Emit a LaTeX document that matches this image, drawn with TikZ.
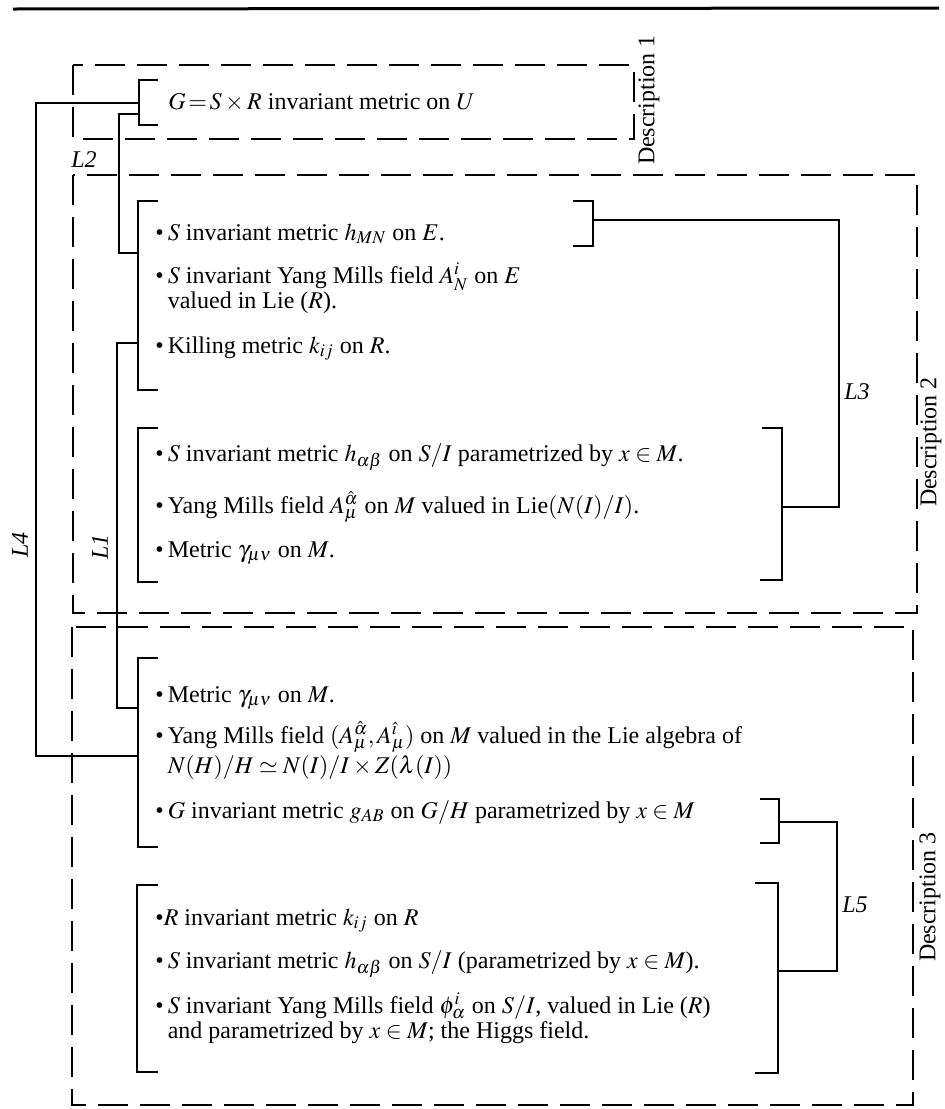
\documentclass[tikz,border=0pt]{standalone}
\usepackage{mathptmx}
\usepackage{fontspec}
\setmainfont{Liberation Serif}
\usetikzlibrary{positioning}

\newcommand{\blt}{\textbullet\,}
\newcommand{\cnt}{\phantom{\textbullet\,}}

\begin{document}
\begin{tikzpicture}[x=0.5pt, y=-0.5pt,
  itm/.style={anchor=base west, inner sep=0pt, align=left,
    font=\fontsize{12}{12.5}\selectfont},
  lab/.style={inner sep=0pt, font=\fontsize{12}{12.5}\selectfont\itshape},
  desc/.style={inner sep=0pt, rotate=90, font=\fontsize{12}{12.5}\selectfont},
  dbox/.style={line width=1.3pt, dash pattern=on 15pt off 6pt},
  brk/.style={line width=1.3pt},
  link/.style={line width=1pt}
]
  \useasboundingbox (0,0) rectangle (944,1109);
  \draw[line width=1.5pt] (13,9) -- (939,8);

  % the three descriptions
  \draw[dbox] (73,65) rectangle (634,139);
  \draw[dbox] (73,175) rectangle (917,613);
  \draw[dbox] (72,627) rectangle (913,1105);
  \node[desc] (desc1) at (649,100) {Description 1};
  \node[desc] (desc2) at (931,442) {Description 2};
  \node[desc] (desc3) at (930,897) {Description 3};

  % description 1
  \node[itm] (gmet) at (168,109) {$G\!=\!S\times R$ invariant metric on $U$};
  \draw[brk] (158,80) -| (139,125) -- (158,125);

  % description 2 (two-line items sit on their last line)
  \node[itm] (hmn) at (155,240) {\blt $S$ invariant metric $h_{MN}$ on $E$.};
  \node[itm] (ymn) at (155,308) {\blt $S$ invariant Yang Mills field $A^i_N$ on $E$\\
    \cnt valued in Lie ($R$).};
  \node[itm] (kil) at (155,353) {\blt Killing metric $k_{ij}$ on $R$.};
  \node[itm] (hab) at (155,461) {\blt $S$ invariant metric $h_{\alpha\beta}$ on $S/I$ parametrized by $x\in M$.};
  \node[itm] (yma) at (155,513) {\blt Yang Mills field $A^{\hat\alpha}_\mu$ on $M$ valued in Lie$(N(I)/I)$.};
  \node[itm] (gam) at (155,557) {\blt Metric $\gamma_{\mu\nu}$ on $M$.};
  \draw[brk] (158,201) -| (138,390) -- (158,390);
  \draw[brk] (573,201) -| (593,246) -- (573,246);
  \draw[brk] (158,428) -| (138,582) -- (158,582);
  \draw[brk] (762,428) -| (782,580) -- (760,580);

  % description 3
  \node[itm] (gam3) at (155,702) {\blt Metric $\gamma_{\mu\nu}$ on $M$.};
  \node[itm] (ym3) at (155,773) {\blt Yang Mills field $(A^{\hat\alpha}_\mu, A^{\hat\imath}_\mu)$ on $M$ valued in the Lie algebra of\\
    \cnt $N(H)/H\simeq N(I)/I\times Z(\lambda(I))$};
  \node[itm] (gab) at (155,818) {\blt $G$ invariant metric $g_{AB}$ on $G/H$ parametrized by $x\in M$};
  \node[itm] (kij) at (155,925) {\textbullet$R$ invariant metric $k_{ij}$ on $R$};
  \node[itm] (hab3) at (155,968) {\blt $S$ invariant metric $h_{\alpha\beta}$ on $S/I$ (parametrized by $x\in M$).};
  \node[itm] (phi) at (155,1038) {\blt $S$ invariant Yang Mills field $\phi^i_\alpha$ on $S/I$, valued in Lie ($R$)\\
    \cnt and parametrized by $x\in M$; the Higgs field.};
  \draw[brk] (158,658) -| (138,847) -- (158,847);
  \draw[brk] (760,799) -| (779,843) -- (760,843);
  \draw[brk] (158,885) -| (137,1072) -- (158,1072);
  \draw[brk] (755,883) -| (778,1073) -- (755,1073);

  % where the links meet the brackets
  \coordinate (G-a) at (139,103);
  \coordinate (G-b) at (139,114);
  \coordinate (A2-a) at (138,253);
  \coordinate (A2-b) at (138,343);
  \coordinate (A2-r) at (593,220);
  \coordinate (B2-r) at (782,507);
  \coordinate (A3-a) at (138,708);
  \coordinate (A3-b) at (138,756);
  \coordinate (A3-r) at (779,822);
  \coordinate (B3-r) at (778,971);

  % links
  \draw[link] (G-a) -- ++(-103,0) |- (A3-b);
  \draw[link] (G-b) -- ++(-20,0) |- (A2-a);
  \draw[link] (A2-b) -- ++(-21,0) |- (A3-a);
  \draw[link] (A2-r) -- ++(246,0) |- (B2-r);
  \draw[link] (A3-r) -- ++(58,0) |- (B3-r);
  \node[lab, rotate=90] (l4) at (20,545) {L4};
  \node[lab] (l2) at (84,160) {L2};
  \node[lab, rotate=90] (l1) at (100,547) {L1};
  \node[lab] (l3) at (857,392) {L3};
  \node[lab] (l5) at (855,905) {L5};
\end{tikzpicture}
\end{document}
